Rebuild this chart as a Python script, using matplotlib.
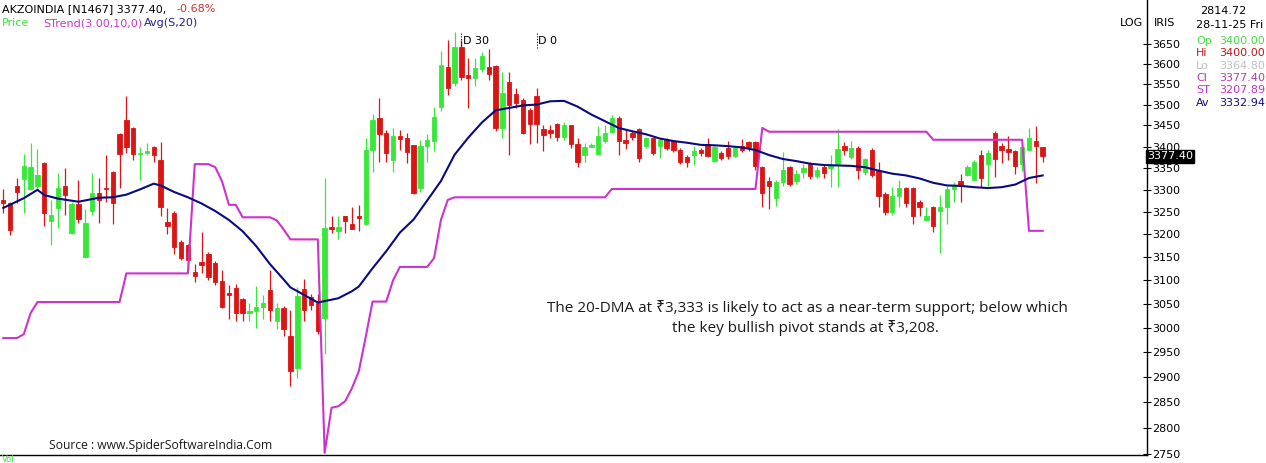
import matplotlib
matplotlib.use("Agg")
import matplotlib.pyplot as plt
import matplotlib.transforms as mtransforms
from matplotlib.ticker import FixedLocator, FixedFormatter, NullLocator
import numpy as np

plt.rcParams['font.family'] = ['DejaVu Sans']

W, H = 1266, 463

# daily candles, oldest first (last one = 28-11-25)
opens = [3277, 3271, 3308, 3324, 3302, 3308, 3361, 3229, 3258, 3308,
         3204, 3268, 3151, 3251, 3292, 3305, 3341, 3429, 3462, 3445,
         3383, 3385, 3399, 3369, 3228, 3247, 3184, 3177, 3117, 3139,
         3158, 3138, 3098, 3073, 3083, 3060, 3031, 3036, 3044, 3079,
         3015, 3041, 2984, 2919, 3082, 3064, 3051, 3020, 3216, 3207,
         3240, 3223, 3241, 3224, 3393, 3467, 3431, 3369, 3426, 3419,
         3403, 3304, 3401, 3414, 3494, 3592, 3553, 3641, 3573, 3564,
         3587, 3592, 3595, 3444, 3556, 3526, 3512, 3488, 3521, 3441,
         3438, 3454, 3422, 3450, 3405, 3381, 3400, 3383, 3413, 3435,
         3468, 3416, 3431, 3442, 3401, 3419, 3401, 3416, 3413, 3393,
         3375, 3380, 3393, 3405, 3366, 3384, 3397, 3377, 3401, 3411,
         3410, 3352, 3320, 3281, 3318, 3352, 3321, 3340, 3359, 3331,
         3353, 3350, 3360, 3402, 3375, 3397, 3340, 3393, 3344, 3291,
         3249, 3285, 3304, 3304, 3273, 3232, 3262, 3251, 3262, 3302,
         3321, 3334, 3323, 3381, 3360, 3433, 3402, 3395, 3389, 3359,
         3393, 3413, 3400.00]
highs = [3302, 3273, 3326, 3383, 3409, 3395, 3365, 3277, 3338, 3349,
         3273, 3323, 3256, 3338, 3328, 3381, 3342, 3433, 3521, 3446,
         3399, 3409, 3402, 3411, 3258, 3251, 3187, 3178, 3136, 3205,
         3162, 3142, 3122, 3090, 3093, 3062, 3051, 3088, 3069, 3122,
         3051, 3046, 3037, 3086, 3104, 3071, 3071, 3328, 3241, 3240,
         3241, 3262, 3266, 3421, 3478, 3517, 3440, 3444, 3438, 3433,
         3404, 3416, 3429, 3494, 3632, 3660, 3681, 3660, 3614, 3614,
         3630, 3637, 3597, 3580, 3580, 3540, 3517, 3492, 3540, 3452,
         3452, 3456, 3458, 3452, 3421, 3409, 3409, 3448, 3452, 3475,
         3472, 3440, 3438, 3444, 3422, 3421, 3421, 3421, 3416, 3397,
         3381, 3401, 3397, 3421, 3401, 3389, 3413, 3401, 3418, 3413,
         3413, 3355, 3330, 3323, 3387, 3355, 3346, 3359, 3363, 3352,
         3357, 3381, 3441, 3410, 3413, 3401, 3373, 3397, 3365, 3296,
         3306, 3323, 3306, 3306, 3277, 3262, 3264, 3289, 3309, 3319,
         3336, 3357, 3368, 3391, 3391, 3437, 3409, 3426, 3393, 3401,
         3444, 3448, 3400.00]
lows = [3247, 3199, 3270, 3247, 3300, 3300, 3218, 3177, 3215, 3243,
        3200, 3225, 3150, 3243, 3225, 3273, 3222, 3304, 3385, 3369,
        3323, 3381, 3363, 3240, 3200, 3158, 3143, 3122, 3096, 3115,
        3100, 3090, 3041, 3019, 3015, 3015, 3015, 2999, 3019, 3015,
        2997, 2984, 2882, 2899, 3015, 3037, 2987, 2947, 3204, 3189,
        3202, 3211, 3207, 3222, 3340, 3365, 3365, 3340, 3391, 3361,
        3290, 3296, 3365, 3389, 3484, 3522, 3544, 3560, 3492, 3544,
        3580, 3560, 3436, 3421, 3381, 3492, 3429, 3407, 3409, 3389,
        3421, 3413, 3416, 3397, 3353, 3365, 3398, 3380, 3409, 3431,
        3381, 3395, 3416, 3364, 3397, 3381, 3373, 3391, 3388, 3359,
        3353, 3357, 3377, 3376, 3365, 3368, 3371, 3376, 3387, 3389,
        3346, 3262, 3256, 3264, 3308, 3308, 3314, 3328, 3324, 3327,
        3327, 3306, 3306, 3381, 3371, 3324, 3334, 3329, 3261, 3243,
        3243, 3262, 3262, 3224, 3240, 3232, 3205, 3160, 3222, 3273,
        3273, 3331, 3323, 3306, 3309, 3330, 3361, 3369, 3337, 3342,
        3389, 3315, 3364.80]
closes = [3271, 3209, 3296, 3355, 3353, 3333, 3247, 3243, 3305, 3288,
          3268, 3234, 3225, 3292, 3276, 3303, 3270, 3382, 3399, 3382,
          3386, 3389, 3380, 3261, 3218, 3172, 3148, 3143, 3109, 3134,
          3107, 3096, 3044, 3068, 3031, 3031, 3036, 3044, 3051, 3037,
          3041, 2997, 2912, 3066, 3037, 3048, 2994, 3215, 3213, 3216,
          3230, 3213, 3237, 3393, 3464, 3430, 3384, 3425, 3418, 3387,
          3292, 3402, 3416, 3471, 3597, 3540, 3642, 3568, 3564, 3589,
          3620, 3575, 3444, 3528, 3500, 3504, 3433, 3454, 3454, 3427,
          3433, 3422, 3452, 3405, 3364, 3399, 3403, 3426, 3431, 3467,
          3414, 3409, 3423, 3374, 3419, 3385, 3416, 3397, 3391, 3363,
          3365, 3389, 3386, 3379, 3398, 3374, 3377, 3397, 3392, 3398,
          3355, 3292, 3309, 3317, 3346, 3313, 3336, 3349, 3331, 3346,
          3339, 3355, 3395, 3391, 3397, 3346, 3371, 3334, 3285, 3249,
          3287, 3304, 3271, 3241, 3262, 3241, 3218, 3262, 3302, 3308,
          3309, 3352, 3363, 3327, 3385, 3372, 3393, 3387, 3355, 3399,
          3421, 3402, 3377.40]

# SuperTrend(3,10) value per candle
strend = [2979, 2979, 2979, 2987, 3031, 3054, 3054, 3054, 3054, 3054,
          3054, 3054, 3054, 3054, 3054, 3054, 3054, 3054, 3115, 3115,
          3115, 3115, 3115, 3115, 3115, 3115, 3115, 3115, 3359, 3359,
          3359, 3352, 3319, 3266, 3266, 3238, 3238, 3238, 3238, 3238,
          3231, 3211, 3189, 3189, 3189, 3189, 3189, 2752, 2839, 2842,
          2852, 2878, 2912, 2981, 3055, 3055, 3055, 3100, 3129, 3129,
          3129, 3129, 3129, 3148, 3232, 3277, 3283, 3283, 3283, 3283,
          3283, 3283, 3283, 3283, 3283, 3283, 3283, 3283, 3283, 3283,
          3283, 3283, 3283, 3283, 3283, 3283, 3283, 3283, 3283, 3302,
          3302, 3302, 3302, 3302, 3302, 3302, 3302, 3302, 3302, 3302,
          3302, 3302, 3302, 3302, 3302, 3302, 3302, 3302, 3302, 3302,
          3302, 3444, 3435, 3435, 3435, 3435, 3435, 3435, 3435, 3435,
          3435, 3435, 3435, 3435, 3435, 3435, 3435, 3435, 3435, 3435,
          3435, 3435, 3435, 3435, 3435, 3435, 3416, 3416, 3416, 3416,
          3416, 3416, 3416, 3416, 3416, 3416, 3416, 3416, 3416, 3416,
          3207.89, 3207.89, 3207.89]

# 20-day simple average, read at these candle numbers
avg_idx = [1, 4, 6, 7, 9, 12, 15, 17, 19, 21, 23, 24, 26, 28, 30, 32, 34, 36,
           38, 40, 42, 43, 45, 47, 48, 50, 52, 53, 55, 57, 59, 61, 63, 65, 67,
           69, 71, 73, 75, 77, 79, 81, 83, 85, 87, 89, 91, 93, 95, 97, 99, 101,
           103, 105, 107, 109, 111, 113, 115, 117, 119, 121, 123, 125, 127,
           129, 131, 133, 135, 137, 139, 141, 143, 145, 147, 149, 151, 153]
avg_vals = [3259, 3281, 3300, 3288, 3280, 3273, 3282, 3283, 3289, 3301, 3314,
            3310, 3295, 3283, 3269, 3252, 3232, 3207, 3174, 3135, 3102, 3085,
            3069, 3053, 3056, 3062, 3077, 3087, 3126, 3163, 3204, 3233, 3276,
            3320, 3381, 3421, 3457, 3486, 3492, 3498, 3500, 3508, 3509, 3495,
            3476, 3460, 3444, 3436, 3429, 3419, 3413, 3409, 3404, 3403, 3401,
            3398, 3392, 3380, 3371, 3366, 3360, 3357, 3356, 3355, 3352, 3344,
            3337, 3333, 3326, 3316, 3310, 3309, 3306, 3304, 3306, 3312, 3327,
            3332.94]

yticks = list(range(2750, 3651, 50))
cycle_marks = [(68, "D 30"), (79, "D 0")]

info_rows = [("Op", "3400.00", "#44dd44"), ("Hi", "3400.00", "#c01818"),
             ("Lo", "3364.80", "#c0c0c0"), ("Cl", "3377.40", "#b03cb0"),
             ("ST", "3207.89", "#c832c8"), ("Av", "3332.94", "#101080")]

GREEN = "#38e838"
RED = "#dc1414"
MAG = "#cc33cc"
NAVY = "#0a0a80"


def ftext(px, py, s, **kw):
    kw.setdefault("va", "center")
    return fig.text(px / W, 1 - py / H, s, **kw)


fig = plt.figure(figsize=(W / 100, H / 100), dpi=100)
ax = fig.add_axes([0, 8 / H, 1147 / W, 455 / H])

o = np.array(opens, dtype=float)
c = np.array(closes, dtype=float)
x = np.arange(len(c))
cols = np.where(c >= o, GREEN, RED)

ax.vlines(x, lows, highs, colors=cols, lw=0.9, zorder=2)
ax.bar(x, np.abs(c - o), bottom=np.minimum(o, c), width=0.64,
       color=cols, edgecolor=cols, lw=0.6, zorder=3)
ax.plot(x, strend, color=MAG, lw=1.5, zorder=4)
ax.plot(np.array(avg_idx) - 1, avg_vals, color=NAVY, lw=1.5, zorder=5)

ax.set_yscale("log")
ax.set_ylim(2748, 3762)
ax.set_xlim(-0.48, 167.26)
ax.set_xticks([])
ax.yaxis.tick_right()
ax.yaxis.set_major_locator(FixedLocator(yticks))
ax.yaxis.set_major_formatter(FixedFormatter([str(t) for t in yticks]))
ax.yaxis.set_minor_locator(NullLocator())
ax.tick_params(axis="y", direction="inout", length=6, width=0.8,
               labelsize=8, pad=1)
for side in ("left", "top"):
    ax.spines[side].set_visible(False)
for side in ("right", "bottom"):
    ax.spines[side].set_linewidth(1.0)

# cycle markers at the top
trans = mtransforms.blended_transform_factory(ax.transData, ax.transAxes)
for num, lab in cycle_marks:
    ax.plot([num - 1, num - 1], [(455 - 48) / 455, (455 - 32) / 455],
            transform=trans, color="black", lw=0.8, ls=(0, (1, 1.5)))
    ax.text(num - 1 + 0.2, (455 - 41) / 455, lab, transform=trans,
            fontsize=8, va="center", ha="left")

# last price tag on the axis
tag_trans = mtransforms.blended_transform_factory(ax.transAxes, ax.transData)
ax.text(1.0, closes[-1], "3377.40", transform=tag_trans,
        color="white", fontsize=8, va="center", ha="left", zorder=10, clip_on=False,
        bbox=dict(boxstyle="square,pad=0.12", fc="black", ec="black"))

# header
ftext(2, 9, "AKZOINDIA [N1467] 3377.40,", fontsize=8, color="black")
ftext(176, 9, "-0.68%", fontsize=8, color="#d03030")
ftext(2, 23, "Price", fontsize=8, color="#44dd44")
ftext(43, 23, "STrend(3.00,10,0)", fontsize=8, color=MAG)
ftext(144, 23, "Avg(S,20)", fontsize=8, color="#202090")

# right panel
ftext(1120, 23, "LOG", fontsize=8)
ftext(1154, 23, "IRIS", fontsize=8)
ftext(1200, 11, "2814.72", fontsize=8)
ftext(1196, 25, "28-11-25 Fri", fontsize=8)
for k, (lab, val, col) in enumerate(info_rows):
    yy = 41 + k * 12.3
    ftext(1196, yy, lab, fontsize=8, color=col)
    ftext(1219, yy, val, fontsize=8, color=col)

# commentary
note_font = ["Open Sans", "Noto Sans", "DejaVu Sans"]
ftext(807, 308, "The 20-DMA at \u20b93,333 is likely to act as a near-term support; below which",
      fontsize=11, ha="center", color="#1a1a1a", family=note_font)
ftext(805, 328, "the key bullish pivot stands at \u20b93,208.",
      fontsize=11, ha="center", color="#1a1a1a", family=note_font)
ftext(161, 446, "Source : www.SpiderSoftwareIndia.Com", fontsize=8.7, ha="center",
      color="#1a1a1a", family=note_font)
ftext(2, 459.5, "Vol", fontsize=6, color="#44dd44", ha="left")

fig.savefig("out.png", dpi=100)
